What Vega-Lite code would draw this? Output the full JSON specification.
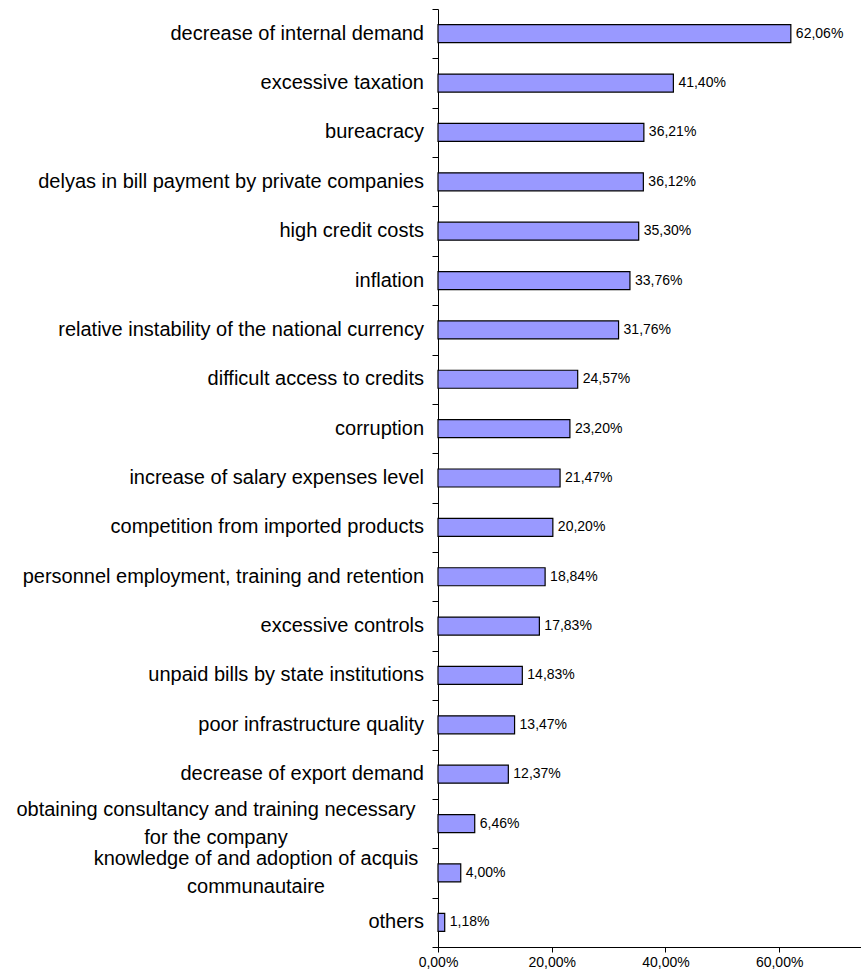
{
  "$schema": "https://vega.github.io/schema/vega-lite/v6.json",
  "width": 423,
  "height": 938,
  "padding": {"left": 16, "top": 8, "right": 0, "bottom": 0},
  "autosize": {"type": "pad"},
  "config": {
    "view": {"stroke": null},
    "font": "Liberation Sans",
    "locale": {"number": {"decimal": ",", "thousands": ".", "grouping": [3], "currency": ["", " €"]}}
  },
  "data": {
    "values": [
      {"factor": "decrease of internal demand", "share": 0.6206},
      {"factor": "excessive taxation", "share": 0.4140},
      {"factor": "bureacracy", "share": 0.3621},
      {"factor": "delyas in bill payment by private companies", "share": 0.3612},
      {"factor": "high credit costs", "share": 0.3530},
      {"factor": "inflation", "share": 0.3376},
      {"factor": "relative instability of the national currency", "share": 0.3176},
      {"factor": "difficult access to credits", "share": 0.2457},
      {"factor": "corruption", "share": 0.2320},
      {"factor": "increase of salary expenses level", "share": 0.2147},
      {"factor": "competition from imported products", "share": 0.2020},
      {"factor": "personnel employment, training and retention", "share": 0.1884},
      {"factor": "excessive controls", "share": 0.1783},
      {"factor": "unpaid bills by state institutions", "share": 0.1483},
      {"factor": "poor infrastructure quality", "share": 0.1347},
      {"factor": "decrease of export demand", "share": 0.1237},
      {"factor": "obtaining consultancy and training necessary|for the company", "share": 0.0646},
      {"factor": "knowledge of and adoption of acquis|communautaire", "share": 0.0400},
      {"factor": "others", "share": 0.0118}
    ]
  },
  "encoding": {
    "y": {
      "field": "factor",
      "type": "nominal",
      "sort": null,
      "scale": {"paddingInner": 0, "paddingOuter": 0},
      "axis": {
        "title": null,
        "domainColor": "black",
        "tickColor": "black",
        "tickSize": 6,
        "tickBand": "extent",
        "labels": false
      }
    }
  },
  "layer": [
    {
      "mark": {"type": "bar", "height": 18, "fill": "#9999FF", "stroke": "black", "strokeWidth": 1.2},
      "encoding": {
        "x": {
          "field": "share",
          "type": "quantitative",
          "scale": {"domain": [0, 0.744], "nice": false},
          "axis": {
            "title": null,
            "values": [0, 0.2, 0.4, 0.6],
            "format": ".2%",
            "grid": false,
            "domainColor": "black",
            "tickColor": "black",
            "tickSize": 5,
            "labelFontSize": 14,
            "labelColor": "black",
            "labelFlush": false,
            "labelPadding": 3
          }
        }
      }
    },
    {
      "mark": {"type": "text", "align": "left", "baseline": "middle", "dx": 5, "fontSize": 14, "color": "black"},
      "encoding": {
        "x": {"field": "share", "type": "quantitative"},
        "text": {"field": "share", "type": "quantitative", "format": ".2%"}
      }
    },
    {
      "transform": [{"filter": "indexof(datum.factor, '|') < 0"}],
      "mark": {"type": "text", "align": "right", "baseline": "middle", "dx": -14, "fontSize": 20, "color": "black"},
      "encoding": {
        "x": {"datum": 0, "type": "quantitative"},
        "text": {"field": "factor", "type": "nominal"}
      }
    },
    {
      "transform": [{"filter": "indexof(datum.factor, 'obtaining') >= 0"}],
      "mark": {"type": "text", "align": "center", "baseline": "line-bottom", "lineBreak": "|", "lineHeight": 28, "dx": -222, "fontSize": 20, "color": "black"},
      "encoding": {
        "x": {"datum": 0, "type": "quantitative"},
        "text": {"field": "factor", "type": "nominal"}
      }
    },
    {
      "transform": [{"filter": "indexof(datum.factor, 'knowledge') >= 0"}],
      "mark": {"type": "text", "align": "center", "baseline": "line-bottom", "lineBreak": "|", "lineHeight": 28, "dx": -182, "fontSize": 20, "color": "black"},
      "encoding": {
        "x": {"datum": 0, "type": "quantitative"},
        "text": {"field": "factor", "type": "nominal"}
      }
    }
  ]
}
